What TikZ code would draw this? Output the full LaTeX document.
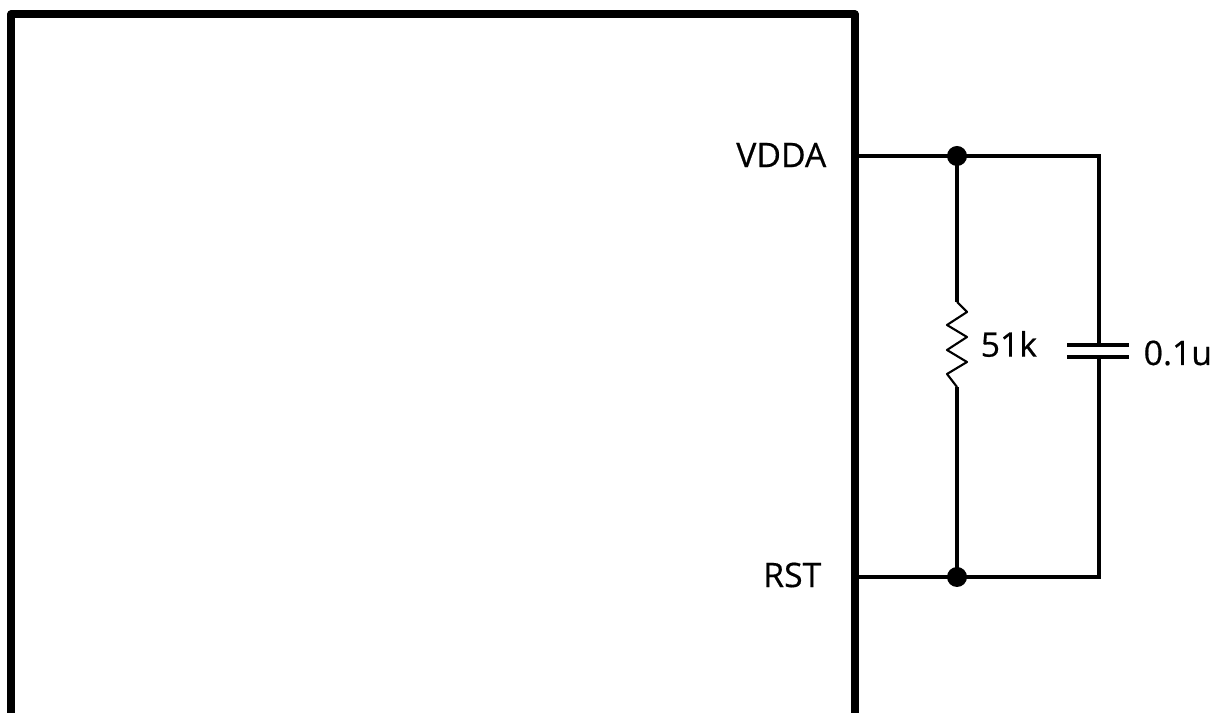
\documentclass[tikz,border=0pt]{standalone}
\usepackage{fontspec}
\setmainfont{Open Sans}[FakeBold=0.5]
\begin{document}
\begin{tikzpicture}[x=0.01cm,y=-0.01cm,
  box/.style={line width=2pt, line join=round},
  wire/.style={line width=0.95pt},
  plate/.style={line width=1.1pt},
  res/.style={line width=0.6pt, line join=round},
  dot/.style={circle, fill=black, inner sep=0pt, minimum size=20*0.01cm},
  lbl/.style={font=\fontsize{9.6pt}{11pt}\selectfont, inner sep=0pt}]
\useasboundingbox (0,0) rectangle (1218,713);
% IC box
\draw[box] (11,713) -- (11,14) -- (855,14) -- (855,713);
% pins
\coordinate (pV) at (855,156);
\coordinate (pR) at (855,577);
\node[dot] (jV) at (957,156) {};
\node[dot] (jR) at (957,577) {};
\coordinate (cV) at (1099,156);
\coordinate (cR) at (1099,577);
\node[lbl, anchor=east] (tV) at (827,155) {VDDA};
\node[lbl, anchor=east] (tR) at (822,575) {RST};
% wires
\draw[wire] (pV) -- (jV.center) -- (cV) -- (1099,345);
\draw[wire] (pR) -- (jR.center) -- (cR) -- (1099,357);
% resistor
\coordinate (rt) at (957,302);
\coordinate (rb) at (957,387);
\draw[wire] (jV.center) -- (rt);
\draw[wire] (rb) -- (jR.center);
\draw[res] (rt) -- (967,312) -- (947,325) -- (967,337) -- (947,350) -- (967,362) -- (947,374) -- (rb);
\node[lbl, anchor=west] (t51) at (980,344) {51k};
% capacitor
\draw[plate] (1067,345) -- (1129,345);
\draw[plate] (1067,357) -- (1129,357);
\node[lbl, anchor=west] (tC) at (1143,353) {0.1u};
\end{tikzpicture}
\end{document}
